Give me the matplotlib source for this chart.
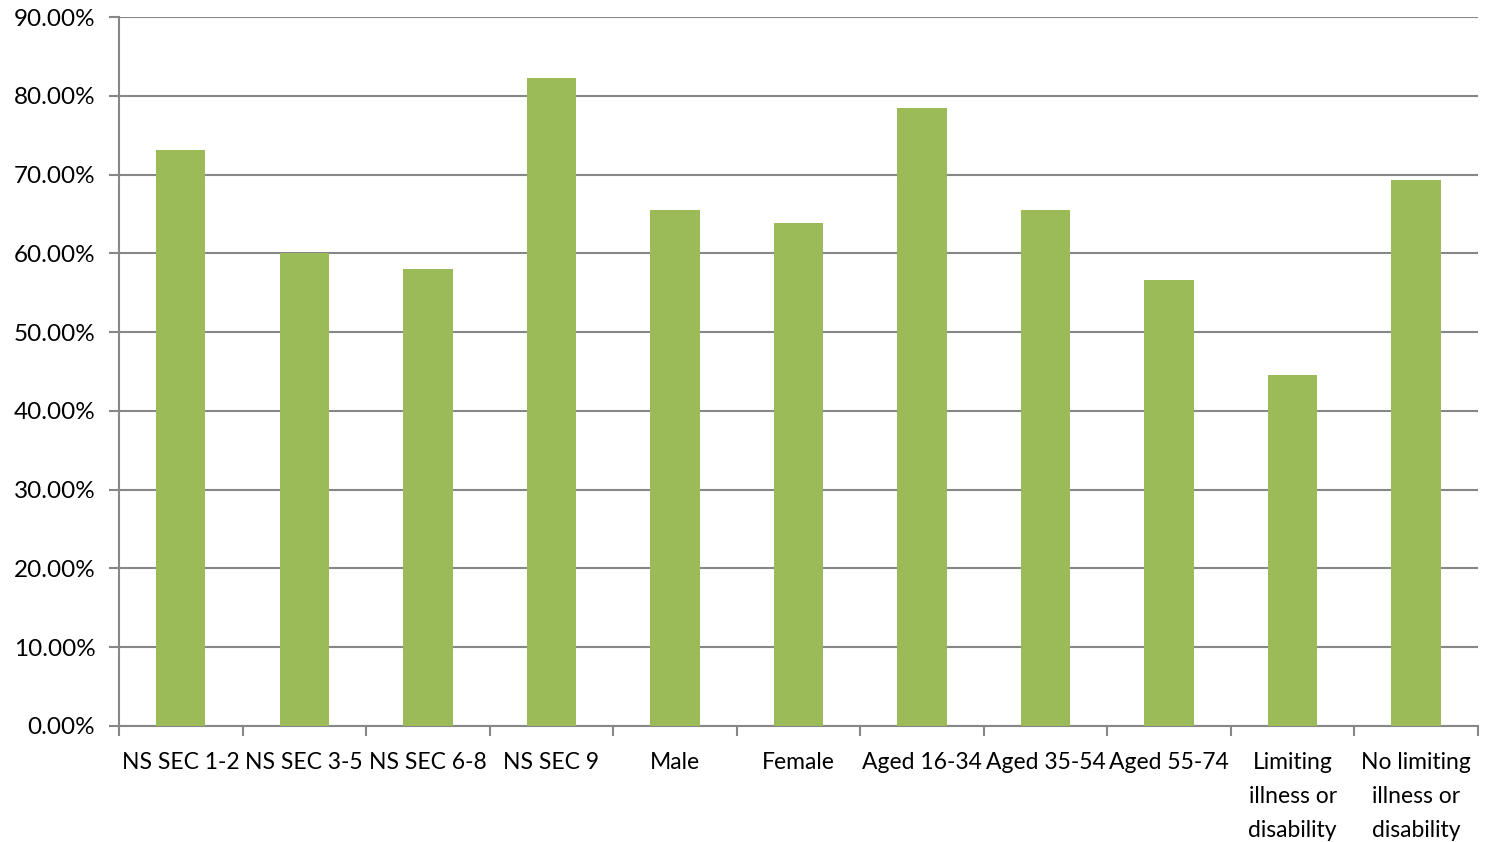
import matplotlib.pyplot as plt
from matplotlib.ticker import FuncFormatter, FixedLocator

categories = ["NS SEC 1-2", "NS SEC 3-5", "NS SEC 6-8", "NS SEC 9", "Male", "Female",
              "Aged 16-34", "Aged 35-54", "Aged 55-74",
              "Limiting\nillness or\ndisability", "No limiting\nillness or\ndisability"]
values = [73.1, 60.1, 58.0, 82.3, 65.5, 63.8, 78.5, 65.5, 56.6, 44.6, 69.3]

plt.rcParams['font.family'] = ['Lato', 'DejaVu Sans']

fig = plt.figure(figsize=(14.89, 8.42), dpi=100)
ax = fig.add_axes([0.0799, 0.1378, 0.9127, 0.842])

x = range(len(categories))
ax.bar(x, values, width=0.4, color='#9BBB59', zorder=3)

ax.set_xlim(-0.5, len(categories) - 0.5)
ax.set_ylim(0, 90)
ax.set_yticks(range(0, 91, 10))
ax.yaxis.set_major_formatter(FuncFormatter(lambda v, p: f"{v:.2f}%"))
ax.yaxis.grid(True, color='#878787', linewidth=1.5, zorder=0)

# labels centred on bars, ticks on category boundaries
ax.set_xticks(list(x))
ax.set_xticklabels(categories, fontsize=16.5, linespacing=1.75)
ax.tick_params(axis='x', which='major', length=0, pad=19)
ax.xaxis.set_minor_locator(FixedLocator([i - 0.5 for i in range(len(categories) + 1)]))
ax.tick_params(axis='x', which='minor', length=7, width=1.5, color='#878787')
ax.tick_params(axis='y', length=7, width=1.5, color='#878787', labelsize=17.5, pad=10)

for s in ['top', 'right']:
    ax.spines[s].set_visible(False)
for s in ['left', 'bottom']:
    ax.spines[s].set_color('#878787')
    ax.spines[s].set_linewidth(1.5)

fig.savefig("out.png", dpi=100)
